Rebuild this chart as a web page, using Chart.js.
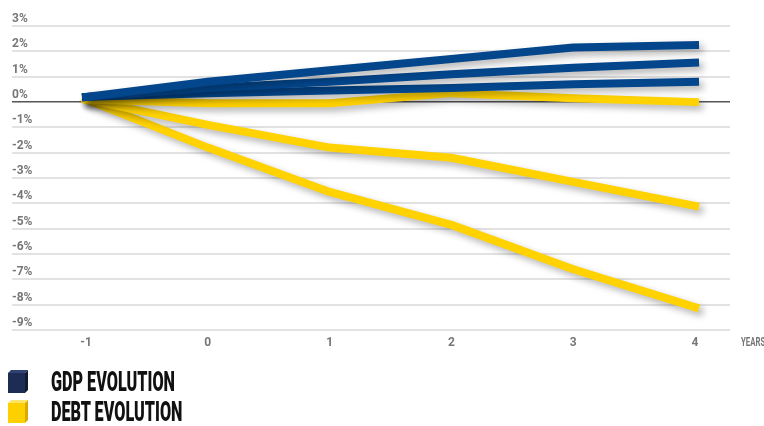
<!DOCTYPE html>
<html>
<head>
<meta charset="utf-8">
<script src="https://cdn.jsdelivr.net/npm/chart.js@4"></script>
<style>
  body { margin: 0; background: #fff; width: 764px; height: 426px; overflow: hidden; position: relative;
         font-family: Roboto, "DejaVu Sans", sans-serif; }
  #wrap { position: absolute; left: 0; top: 0; width: 764px; height: 377px; }
  .item { position: absolute; left: 8px; height: 24px; }
  .item svg { position: absolute; left: 0; top: 0; }
  .item span { position: absolute; left: 43px; top: -3px; font-weight: 900; font-size: 27px; line-height: 30px;
               color: #111; white-space: nowrap; transform: scaleX(0.6); transform-origin: left center; }
</style>
</head>
<body>
<div id="wrap"><canvas id="chart" width="764" height="377"></canvas></div>

<div class="item" style="top:370px">
  <svg width="22" height="24">
    <polygon points="0,3 3,0 20,0 17,3" fill="#2e4273"/>
    <polygon points="17,3 20,0 20,20 17,23" fill="#0f1a33"/>
    <rect x="0" y="3" width="17" height="20" fill="#1c2c55"/>
  </svg>
  <span>GDP EVOLUTION</span>
</div>
<div class="item" style="top:400px">
  <svg width="22" height="24">
    <polygon points="0,3 3,0 20,0 17,3" fill="#ffe46a"/>
    <polygon points="17,3 20,0 20,20 17,23" fill="#d9ab00"/>
    <rect x="0" y="3" width="17" height="20" fill="#ffd000"/>
  </svg>
  <span>DEBT EVOLUTION</span>
</div>

<script>
// years after the shock, and the scenarios (% change)
const years = [-1, 0, 1, 2, 3, 4];
const yTicks = [3, 2, 1, 0, -1, -2, -3, -4, -5, -6, -7, -8, -9];

const gdpHigh = [0.2, 0.8, 1.25, 1.7, 2.15, 2.25];
const gdpMid  = [0.2, 0.55, 0.8, 1.1, 1.35, 1.55];
const gdpLow  = [0.2, 0.35, 0.45, 0.55, 0.7, 0.8];

const debtTop = [0.1, -0.05, -0.05, 0.35, 0.15, 0.0];
const debtMid = [0.1, -0.9, -1.8, -2.2, -3.15, -4.1];
const debtLow = [0.1, -1.8, -3.55, -4.85, -6.6, -8.1];

const BLUE = '#03468c';
const YELLOW = '#ffd200';
const tickFont = { family: 'Roboto, "DejaVu Sans", sans-serif', size: 12, weight: 'bold' };

function series(values, color, order) {
  return {
    data: years.map((x, i) => ({ x: x, y: values[i] })),
    borderColor: color,
    borderWidth: 8,
    borderCapStyle: 'square',
    borderJoinStyle: 'round',
    pointRadius: 0,
    tension: 0,
    order: order
  };
}

// soft drop shadow under each line
const lineShadow = {
  id: 'lineShadow',
  beforeDatasetDraw(chart) {
    const c = chart.ctx;
    c.save();
    c.shadowColor = 'rgba(0,0,0,0.3)';
    c.shadowBlur = 7;
    c.shadowOffsetX = 4;
    c.shadowOffsetY = 4;
  },
  afterDatasetDraw(chart) {
    chart.ctx.restore();
  }
};

// "YEARS" unit label at the end of the x axis, squeezed like the tick font
const yearsLabel = {
  id: 'yearsLabel',
  afterDraw(chart) {
    const c = chart.ctx;
    const area = chart.chartArea;
    c.save();
    c.translate(area.right + 11, area.bottom + 13);
    c.scale(0.65, 1);
    c.font = 'bold 12px ' + tickFont.family;
    c.fillStyle = '#777';
    c.textAlign = 'left';
    c.textBaseline = 'middle';
    c.fillText('YEARS', 0, 0);
    c.restore();
  }
};

new Chart(document.getElementById('chart'), {
  type: 'line',
  data: {
    datasets: [
      series(gdpHigh, BLUE, 0),
      series(gdpMid, BLUE, 0),
      series(gdpLow, BLUE, 0),
      series(debtTop, YELLOW, 1),
      series(debtMid, YELLOW, 1),
      series(debtLow, YELLOW, 1)
    ]
  },
  options: {
    responsive: false,
    animation: false,
    layout: { padding: { left: 12, right: 34, top: 26, bottom: 20.6 } },
    plugins: { legend: { display: false }, tooltip: { enabled: false } },
    scales: {
      x: {
        type: 'linear',
        min: -1.6075,
        max: 4.287,
        afterBuildTicks(scale) { scale.ticks = years.map(v => ({ value: v })); },
        grid: { display: false, drawTicks: false },
        border: { display: false },
        ticks: { color: '#777', font: tickFont, padding: 6, maxRotation: 0 }
      },
      y: {
        min: -9,
        max: 3,
        afterBuildTicks(scale) { scale.ticks = yTicks.map(v => ({ value: v })); },
        border: { display: false },
        grid: {
          drawTicks: false,
          color: ctx => ctx.tick.value === 0 ? '#555' : '#e2e2e2',
          lineWidth: ctx => ctx.tick.value === 0 ? 1.5 : 2
        },
        ticks: {
          mirror: true,
          padding: 0,
          labelOffset: -7,
          color: '#777',
          font: tickFont,
          callback: v => v + '%'
        }
      }
    }
  },
  plugins: [lineShadow, yearsLabel]
});
</script>
</body>
</html>
